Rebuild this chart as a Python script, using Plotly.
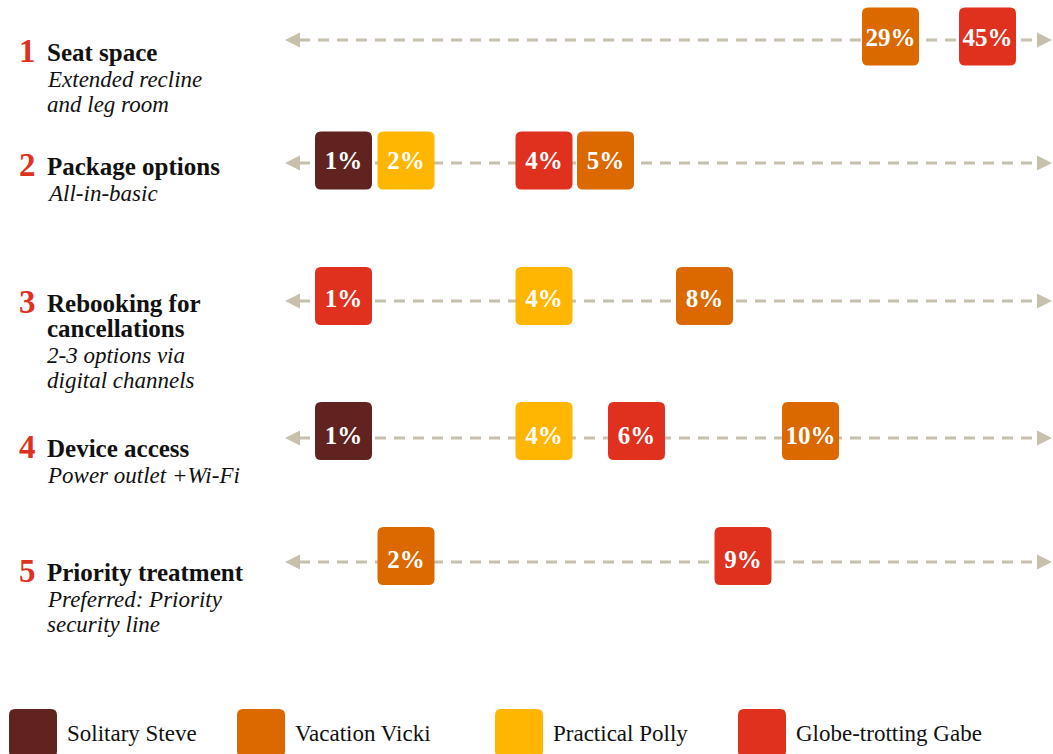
import numpy as np
import plotly.graph_objects as go

# ---------------- data ----------------
PERSONAS = ["Solitary Steve", "Vacation Vicki", "Practical Polly", "Globe-trotting Gabe"]
COLORS = ["#602320", "#dc6900", "#ffb600", "#e0301e"]

ROW_NUMBERS = ["1", "2", "3", "4", "5"]
ROW_TITLES = [
    ["Seat space"],
    ["Package options"],
    ["Rebooking for", "cancellations"],
    ["Device access"],
    ["Priority treatment"],
]
ROW_SUBTITLES = [
    ["Extended recline", "and leg room"],
    ["All-in-basic"],
    ["2-3 options via", "digital channels"],
    ["Power outlet +Wi-Fi"],
    ["Preferred: Priority", "security line"],
]

# percentage per row (Seat space, Package, Rebooking, Device, Priority)
steve = [None, 1, None, 1, None]
vicki = [29, 5, 8, 10, 2]
polly = [None, 2, 4, 4, None]
gabe = [45, 4, 1, 6, 9]
SERIES = [steve, vicki, polly, gabe]

# ---------------- scale (non-linear display scale of the infographic) ----------------
SCALE_PCT = [0, 1, 2, 4, 5, 6, 8, 9, 10, 29, 45, 50]
SCALE_POS = [290, 343.5, 406, 544, 605.5, 636.5, 704.5, 743, 810.5, 890.5, 987.5, 1040]


def xscale(v):
    return float(np.interp(v, SCALE_PCT, SCALE_POS))


# ---------------- layout constants ----------------
W, H = 1053, 754
ROW_Y = [40, 163, 301, 438, 562]          # arrow lines
BOX_Y = [36.5, 160.5, 296, 431, 556]      # box centres
LABEL_Y = [52, 166, 303, 448, 572]        # first title line
LINE_H = 25
ARROW_X0, ARROW_X1 = 285, 1052
HEAD_L, HEAD_HALF = 15, 7.5
BOX_W, BOX_H, RADIUS = 57, 58, 6
GREY = "#c6c0ad"
SERIF = "Liberation Serif"

LEGEND_X = [9, 237, 495, 738]
LEGEND_Y0, LEGEND_SIZE = 709, 48

fig = go.Figure()
shapes = []
annotations = []


def rounded_rect(cx, cy, w, h, r):
    x0, x1 = cx - w / 2, cx + w / 2
    y0, y1 = cy - h / 2, cy + h / 2
    return (f"M {x0 + r},{y0} L {x1 - r},{y0} Q {x1},{y0} {x1},{y0 + r} "
            f"L {x1},{y1 - r} Q {x1},{y1} {x1 - r},{y1} L {x0 + r},{y1} "
            f"Q {x0},{y1} {x0},{y1 - r} L {x0},{y0 + r} Q {x0},{y0} {x0 + r},{y0} Z")


# arrows
for y in ROW_Y:
    shapes.append(dict(type="line", x0=ARROW_X0 + HEAD_L - 1, x1=ARROW_X1 - HEAD_L + 1, y0=y, y1=y,
                       xref="x", yref="y", layer="below",
                       line=dict(color=GREY, width=3, dash="11px,8px")))
    shapes.append(dict(type="path", layer="below", xref="x", yref="y",
                       path=f"M {ARROW_X0},{y} L {ARROW_X0 + HEAD_L},{y - HEAD_HALF} "
                            f"L {ARROW_X0 + HEAD_L},{y + HEAD_HALF} Z",
                       fillcolor=GREY, line=dict(width=0)))
    shapes.append(dict(type="path", layer="below", xref="x", yref="y",
                       path=f"M {ARROW_X1},{y} L {ARROW_X1 - HEAD_L},{y - HEAD_HALF} "
                            f"L {ARROW_X1 - HEAD_L},{y + HEAD_HALF} Z",
                       fillcolor=GREY, line=dict(width=0)))

# boxes + value text
for name, color, vals in zip(PERSONAS, COLORS, SERIES):
    xs, ys, txt = [], [], []
    for r, v in enumerate(vals):
        if v is None:
            continue
        cx = xscale(v)
        shapes.append(dict(type="path", layer="below", xref="x", yref="y",
                           path=rounded_rect(cx, BOX_Y[r], BOX_W, BOX_H, RADIUS),
                           fillcolor=color, line=dict(width=0)))
        xs.append(cx)
        ys.append(ROW_Y[r])
        txt.append(f"{v}%")
    fig.add_trace(go.Scatter(x=xs, y=ys, text=txt, mode="text", name=name,
                             textfont=dict(family=SERIF, size=25, color="white", weight="bold"),
                             hoverinfo="skip"))

# row labels
for r in range(5):
    y = LABEL_Y[r]
    annotations.append(dict(x=27, y=y - 1, xref="x", yref="y", text=f"<b>{ROW_NUMBERS[r]}</b>",
                            showarrow=False, xanchor="center", yanchor="middle",
                            font=dict(family=SERIF, size=33, color="#e0301e", weight="bold")))
    for line in ROW_TITLES[r]:
        annotations.append(dict(x=45, y=y, xref="x", yref="y", text=f"<b>{line}</b>",
                                showarrow=False, xanchor="left", yanchor="middle",
                                font=dict(family=SERIF, size=25, color="#111111")))
        y += LINE_H
    y += 2
    for line in ROW_SUBTITLES[r]:
        annotations.append(dict(x=45, y=y, xref="x", yref="y", text=f"<i>{line}</i>",
                                showarrow=False, xanchor="left", yanchor="middle",
                                font=dict(family=SERIF, size=23, color="#111111")))
        y += LINE_H

# legend
for x0, name, color in zip(LEGEND_X, PERSONAS, COLORS):
    cx = x0 + LEGEND_SIZE / 2
    cy = LEGEND_Y0 + LEGEND_SIZE / 2
    shapes.append(dict(type="path", layer="below", xref="x", yref="y",
                       path=rounded_rect(cx, cy, LEGEND_SIZE, LEGEND_SIZE, RADIUS),
                       fillcolor=color, line=dict(width=0)))
    annotations.append(dict(x=x0 + LEGEND_SIZE + 8, y=733, xref="x", yref="y", text=name,
                            showarrow=False, xanchor="left", yanchor="middle",
                            font=dict(family=SERIF, size=23, color="#111111")))

fig.update_layout(
    width=W, height=H, margin=dict(l=0, r=0, t=0, b=0),
    paper_bgcolor="white", plot_bgcolor="white", showlegend=False,
    xaxis=dict(range=[0, W], visible=False, fixedrange=True),
    yaxis=dict(range=[H, 0], visible=False, fixedrange=True),
    shapes=shapes, annotations=annotations,
)

fig.write_html("out.html", config={"displayModeBar": False},
               post_script="document.body.style.margin='0';")
